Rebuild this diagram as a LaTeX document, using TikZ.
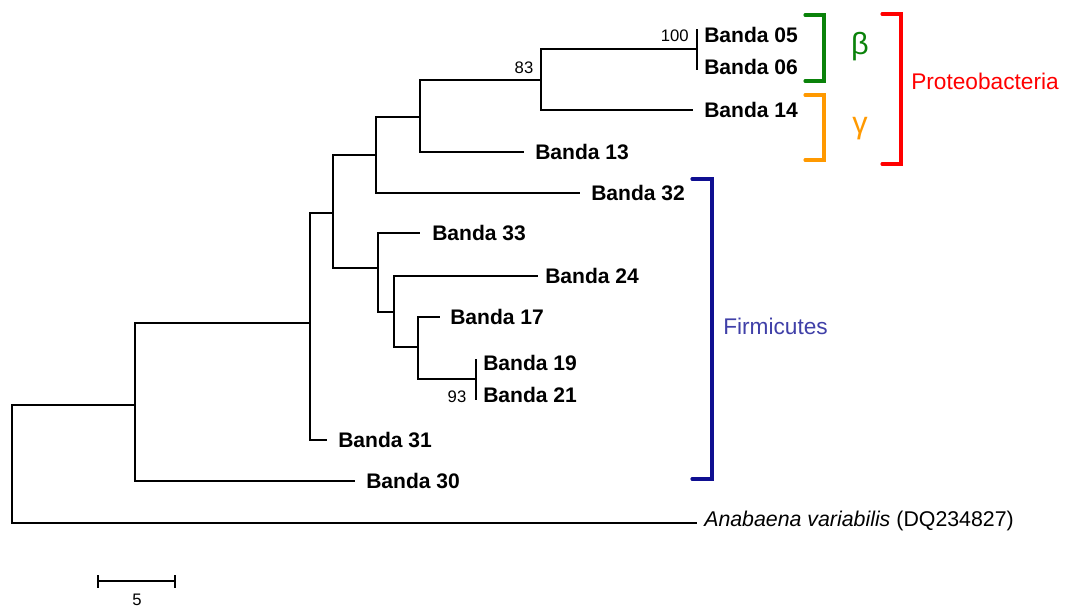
\documentclass[tikz,border=0pt]{standalone}
\usepackage{fontspec}
\setmainfont{Liberation Sans}
\definecolor{betagreen}{RGB}{10,130,10}
\definecolor{gammaorange}{RGB}{255,153,0}
\definecolor{proteored}{RGB}{255,0,0}
\definecolor{firminavy}{RGB}{15,15,145}
\definecolor{firmitext}{RGB}{64,64,168}
\begin{document}
\begin{tikzpicture}[x=0.75pt,y=-0.75pt,
  branch/.style={line width=1pt},
  leaf/.style={anchor=west, inner sep=0pt, font=\fontsize{15.8}{18}\selectfont\bfseries},
  boot/.style={inner sep=0pt, font=\fontsize{12.5}{15}\selectfont},
  clade/.style={line width=2.4pt, line cap=round, line join=miter},
  cladename/.style={anchor=west, inner sep=0pt, font=\fontsize{17}{20}\selectfont},
  greek/.style={inner sep=0pt, font=\fontsize{23}{26}\selectfont}
]
\useasboundingbox (0,0) rectangle (1069,608);

% internal nodes of the tree
\coordinate (R) at (12,464);
\coordinate (A) at (135,405);
\coordinate (B) at (310,323);
\coordinate (C) at (333,213);
\coordinate (D) at (376,155);
\coordinate (E) at (420,117);
\coordinate (F) at (541,80);
\coordinate (G) at (697,49);
\coordinate (H) at (378,268);
\coordinate (I) at (394,312);
\coordinate (J) at (418,347);
\coordinate (K) at (476,379);

% branch tips
\coordinate (t05) at (697,29);
\coordinate (t06) at (697,70);
\coordinate (t14) at (693,110);
\coordinate (t13) at (524,152);
\coordinate (t32) at (580,193);
\coordinate (t33) at (420,233);
\coordinate (t24) at (538,276);
\coordinate (t17) at (440,317);
\coordinate (t19) at (476,359);
\coordinate (t21) at (476,400);
\coordinate (t31) at (327,440);
\coordinate (t30) at (355,481);
\coordinate (tAna) at (697,523);

% branches
\draw[branch] (R) |- (A);
\draw[branch] (R) |- (tAna);
\draw[branch] (A) |- (B);
\draw[branch] (A) |- (t30);
\draw[branch] (B) |- (C);
\draw[branch] (B) |- (t31);
\draw[branch] (C) |- (D);
\draw[branch] (C) |- (H);
\draw[branch] (D) |- (E);
\draw[branch] (D) |- (t32);
\draw[branch] (E) |- (F);
\draw[branch] (E) |- (t13);
\draw[branch] (F) |- (G);
\draw[branch] (F) |- (t14);
\draw[branch] (t05) -- (t06);
\draw[branch] (H) |- (t33);
\draw[branch] (H) |- (I);
\draw[branch] (I) |- (t24);
\draw[branch] (I) |- (J);
\draw[branch] (J) |- (t17);
\draw[branch] (J) |- (K);
\draw[branch] (t19) -- (t21);

% leaf labels
\node[leaf] (l05) at (704,35) {Banda 05};
\node[leaf] (l06) at (704,67) {Banda 06};
\node[leaf] (l14) at (704,110) {Banda 14};
\node[leaf] (l13) at (535,152) {Banda 13};
\node[leaf] (l32) at (591,193) {Banda 32};
\node[leaf] (l33) at (432,233) {Banda 33};
\node[leaf] (l24) at (545,276) {Banda 24};
\node[leaf] (l17) at (450,317) {Banda 17};
\node[leaf] (l19) at (483,363) {Banda 19};
\node[leaf] (l21) at (483,395) {Banda 21};
\node[leaf] (l31) at (338,440) {Banda 31};
\node[leaf] (l30) at (366,481) {Banda 30};
\node[anchor=base west, inner sep=0pt, font=\fontsize{16}{19}\selectfont] (lAna) at (704,526)
  {\itshape Anabaena variabilis\upshape\ (DQ234827)};

% bootstrap values
\node[boot, anchor=east] (b100) at (689,36) {100};
\node[boot] (b83) at (524,67.5) {83};
\node[boot] (b93) at (457,397) {93};

% clade brackets
\draw[clade, betagreen] (805,15) -- (824,15) -- (824,81) -- (805,81);
\draw[clade, gammaorange] (805,95) -- (824,95) -- (824,160) -- (805,160);
\draw[clade, proteored] (882,14) -- (901,14) -- (901,164) -- (882,164);
\draw[clade, firminavy] (692,179) -- (712,179) -- (712,479) -- (692,479);

\node[greek, text=betagreen] (beta) at (860,47) {β};
\node[greek, text=gammaorange] (gamma) at (860,129) {γ};
\node[cladename, text=proteored] (proteo) at (911,81) {Proteobacteria};
\node[cladename, text=firmitext] (firmi) at (723,326) {Firmicutes};

% scale bar
\coordinate (s0) at (98,581);
\coordinate (s1) at (175,581);
\draw[branch] (s0) -- (s1);
\draw[branch] ([yshift=4.5pt]s0) -- ([yshift=-5pt]s0);
\draw[branch] ([yshift=4.5pt]s1) -- ([yshift=-5pt]s1);
\node[boot] (scale) at (137,600) {5};
\end{tikzpicture}
\end{document}
